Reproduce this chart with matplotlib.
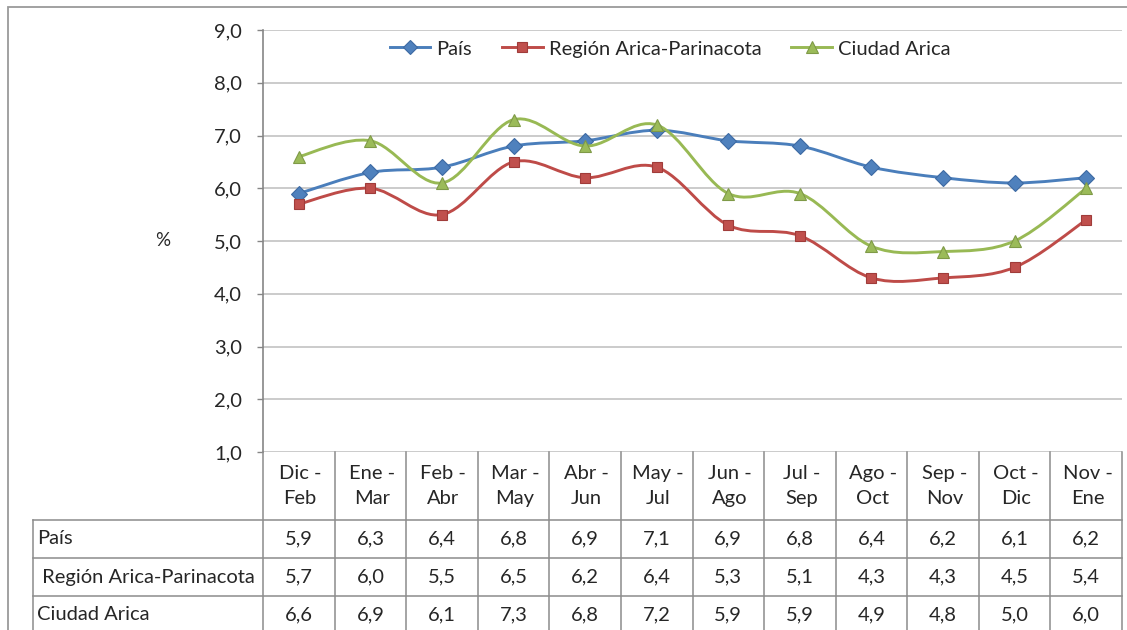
import numpy as np
import matplotlib
matplotlib.use('Agg')
import matplotlib.pyplot as plt
from matplotlib.path import Path
from matplotlib.patches import PathPatch, Rectangle
from matplotlib.lines import Line2D
import matplotlib.transforms as mtransforms
import matplotlib.ticker as ticker

periods = ['Dic -\nFeb', 'Ene -\nMar', 'Feb -\nAbr', 'Mar -\nMay', 'Abr -\nJun', 'May -\nJul',
           'Jun -\nAgo', 'Jul -\nSep', 'Ago -\nOct', 'Sep -\nNov', 'Oct -\nDic', 'Nov -\nEne']
pais = [5.9, 6.3, 6.4, 6.8, 6.9, 7.1, 6.9, 6.8, 6.4, 6.2, 6.1, 6.2]
region = [5.7, 6.0, 5.5, 6.5, 6.2, 6.4, 5.3, 5.1, 4.3, 4.3, 4.5, 5.4]
ciudad = [6.6, 6.9, 6.1, 7.3, 6.8, 7.2, 5.9, 5.9, 4.9, 4.8, 5.0, 6.0]
series_names = ['País', 'Región Arica-Parinacota', 'Ciudad Arica']
row_labels = ['País', ' Región Arica-Parinacota', 'Ciudad Arica']
yticks = [1, 2, 3, 4, 5, 6, 7, 8, 9]

plt.rcParams['font.family'] = ['Lato', 'DejaVu Sans']
TXT = '#262626'
FS = 14.5      # ticks, legend and table

W, H = 1127, 630
fig = plt.figure(figsize=(W / 100, H / 100), dpi=100)


def fx(px):
    return px / W


def fy(py):
    return 1 - py / H


def smooth_path(xs, ys):
    # Excel style smoothed line: cubic bezier through each point
    pts = np.column_stack([xs, ys]).astype(float)
    n = len(pts)
    verts = [pts[0]]
    codes = [Path.MOVETO]
    for i in range(n - 1):
        p0 = pts[max(i - 1, 0)]
        p1 = pts[i]
        p2 = pts[i + 1]
        p3 = pts[min(i + 2, n - 1)]
        verts += [p1 + (p2 - p0) / 6, p2 - (p3 - p1) / 6, p2]
        codes += [Path.CURVE4] * 3
    return Path(verts, codes)


# outer chart border
fig.patches.append(Rectangle((fx(8), -0.1), 1.2, fy(7) + 0.1, transform=fig.transFigure,
                             fill=False, edgecolor='#9a9a9a', linewidth=1.3))

plot_l, plot_r, plot_t, plot_b = 263, 1122, 30, 452
ax = fig.add_axes([fx(plot_l), fy(plot_b), fx(plot_r - plot_l), (plot_b - plot_t) / H])
ncat = len(periods)
x = np.arange(ncat)
ax.set_xlim(-0.5, ncat - 0.5)
ax.set_ylim(1, 9)
ax.set_yticks(yticks)
ax.yaxis.set_major_formatter(ticker.FuncFormatter(lambda v, p: '{:.1f}'.format(v).replace('.', ',')))
ax.set_xticks([])
for s in ['top', 'right', 'bottom']:
    ax.spines[s].set_visible(False)
ax.spines['left'].set_color('#868686')
ax.spines['left'].set_linewidth(1.2)
ax.tick_params(axis='y', direction='out', length=4.5, width=1, color='#868686',
               pad=10.5, labelsize=FS, labelcolor=TXT)
for v in yticks:
    ax.axhline(v, color='#bdbdbd', linewidth=1.1, zorder=0)

styles = [
    dict(line='#4A7EBB', face='#4F81BD', edge='#3d6aa3', marker='D', ms=8),
    dict(line='#BE4B48', face='#C0504D', edge='#a03c3a', marker='s', ms=7.5),
    dict(line='#98B954', face='#9BBB59', edge='#7f9a47', marker='^', ms=9),
]
handles = []
for k, (vals, st) in enumerate(zip([pais, region, ciudad], styles)):
    ax.add_patch(PathPatch(smooth_path(x, vals), facecolor='none', edgecolor=st['line'],
                           linewidth=2.1, zorder=3 + k, capstyle='round', joinstyle='round'))
    ax.plot(x, vals, linestyle='none', marker=st['marker'], markersize=st['ms'],
            markerfacecolor=st['face'], markeredgecolor=st['edge'], markeredgewidth=0.8,
            zorder=3 + k)
    handles.append(Line2D([], [], color=st['line'], linewidth=2.1, marker=st['marker'],
                          markersize=st['ms'] * 0.9, markerfacecolor=st['face'],
                          markeredgecolor=st['edge'], markeredgewidth=0.8))

ax.legend(handles, series_names, loc='center', bbox_to_anchor=(0.474, 0.955), ncol=3,
          frameon=False, fontsize=FS, handlelength=2.0, handletextpad=0.3,
          columnspacing=1.5, labelcolor=TXT)

# percent label
trans = mtransforms.blended_transform_factory(ax.transAxes, ax.transData)
ax.text((163 - plot_l) / (plot_r - plot_l), 5.0, '%', transform=trans, ha='center',
        va='center', fontsize=FS - 1, color=TXT)

# data table under the chart
tab_l = 33
col_w = (plot_r - plot_l) / ncat
row_h = [68, 38, 38, 38]
tab_h = sum(row_h)
tax = fig.add_axes([fx(tab_l), fy(plot_b + tab_h), fx(plot_r - tab_l), tab_h / H])
tax.set_xlim(-0.5 - (plot_l - tab_l) / col_w, ncat - 0.5)
tax.set_ylim(tab_h, 0)
tax.axis('off')
lc = '#8c8c8c'
bounds = np.cumsum([0] + row_h)
x_left = -0.5 - (plot_l - tab_l) / col_w
for b in bounds[1:]:
    tax.plot([x_left, ncat - 0.5], [b, b], color=lc, linewidth=1.1, clip_on=False)
tax.plot([x_left, x_left], [bounds[1], tab_h], color=lc, linewidth=1.1, clip_on=False)
for c in range(ncat + 1):
    tax.plot([c - 0.5, c - 0.5], [0, tab_h], color=lc, linewidth=1.1, clip_on=False)

for c, lab in enumerate(periods):
    tax.text(c + 0.02, bounds[1] / 2, lab, ha='center', va='center', fontsize=FS,
             color=TXT, linespacing=1.6)
for r, (name, vals) in enumerate(zip(row_labels, [pais, region, ciudad])):
    yc = (bounds[r + 1] + bounds[r + 2]) / 2
    tax.text(x_left + 4 / col_w, yc, name, ha='left', va='center', fontsize=FS, color=TXT)
    for c, v in enumerate(vals):
        tax.text(c, yc, '{:.1f}'.format(v).replace('.', ','), ha='center', va='center',
                 fontsize=FS, color=TXT)

plt.savefig('out.png', dpi=100)
